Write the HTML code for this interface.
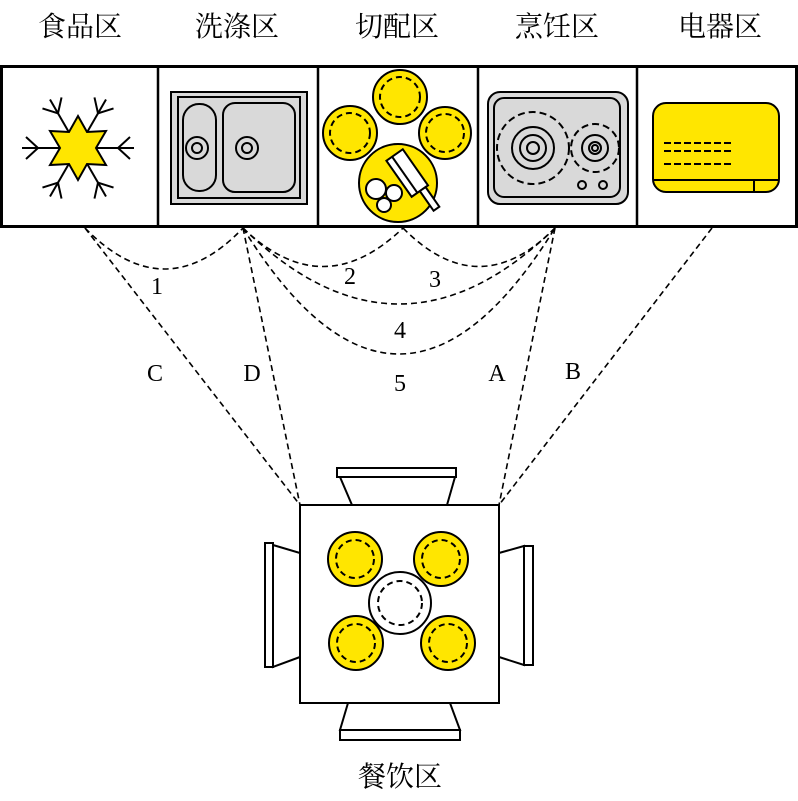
<!DOCTYPE html>
<html><head><meta charset="utf-8"><style>
body{margin:0;background:#fff}
svg{display:block}
text{font-family:"Liberation Serif","Noto Serif CJK SC",serif;fill:#000}
</style></head><body>
<svg width="798" height="801" viewBox="0 0 798 801" xmlns="http://www.w3.org/2000/svg">
<g font-size="28" text-anchor="middle">
<text x="80" y="36">食品区</text><text x="237" y="36">洗涤区</text><text x="397" y="36">切配区</text><text x="557" y="36">烹饪区</text><text x="720" y="36">电器区</text>
<text x="400" y="786">餐饮区</text>
</g>
<rect x="1.5" y="66.5" width="795" height="160" fill="#fff" stroke="#000" stroke-width="3"/>
<g stroke="#000" stroke-width="2.5"><line x1="158" y1="66" x2="158" y2="227"/><line x1="318" y1="66" x2="318" y2="227"/><line x1="478" y1="66" x2="478" y2="227"/><line x1="637" y1="66" x2="637" y2="227"/></g>
<!-- snowflake -->
<g stroke="#000" stroke-width="2" fill="none" transform="translate(78,148)">
<g id="arm"><line x1="0" y1="0" x2="56" y2="0"/><polyline points="52,-11 40,0 52,11"/></g>
<use href="#arm" transform="rotate(60)"/><use href="#arm" transform="rotate(120)"/><use href="#arm" transform="rotate(180)"/><use href="#arm" transform="rotate(240)"/><use href="#arm" transform="rotate(300)"/>
<polygon fill="#ffe600" points="0,-32 9,-16 28,-17 18,0 28,17 9,16 0,32 -9,16 -28,17 -18,0 -28,-17 -9,-16"/>
</g>
<!-- sink -->
<g stroke="#000" stroke-width="2" fill="#d9d9d9">
<rect x="171" y="92" width="136" height="112"/>
<rect x="178" y="97" width="122" height="101"/>
<rect x="183" y="104" width="33" height="87" rx="16"/>
<rect x="223" y="103" width="72" height="89" rx="12"/>
<circle cx="197" cy="148" r="11"/><circle cx="197" cy="148" r="5"/>
<circle cx="247" cy="148" r="11"/><circle cx="247" cy="148" r="5"/>
</g>
<!-- cutting -->
<g stroke="#000" stroke-width="2" fill="#ffe600">
<circle cx="400" cy="97" r="27"/><circle cx="400" cy="97" r="20" stroke-dasharray="6,4" fill="none"/>
<circle cx="350" cy="133" r="27"/><circle cx="350" cy="133" r="20" stroke-dasharray="6,4" fill="none"/>
<circle cx="445" cy="133" r="26"/><circle cx="445" cy="133" r="19" stroke-dasharray="6,4" fill="none"/>
<circle cx="398" cy="183" r="39"/>
<g fill="#fff"><circle cx="376" cy="189" r="10"/><circle cx="394" cy="193" r="8"/><circle cx="384" cy="205" r="7"/></g>
<g transform="translate(400,161) rotate(-35)" fill="#fff"><rect x="-11" y="-8" width="20" height="44"/><rect x="-1" y="36" width="7" height="24"/><line x1="-4" y1="-8" x2="-4" y2="36"/></g>
</g>
<!-- stove -->
<g stroke="#000" stroke-width="2" fill="#d9d9d9">
<rect x="488" y="92" width="140" height="112" rx="12"/>
<rect x="494" y="98" width="126" height="99" rx="10"/>
<g fill="none"><circle cx="533" cy="148" r="36" stroke-dasharray="7,4"/><circle cx="533" cy="148" r="21"/><circle cx="533" cy="148" r="13"/><circle cx="533" cy="148" r="6"/>
<circle cx="595" cy="148" r="24" stroke-dasharray="7,4"/><circle cx="595" cy="148" r="13"/><circle cx="595" cy="148" r="6"/><circle cx="595" cy="148" r="3"/>
<circle cx="582" cy="185" r="4"/><circle cx="603" cy="185" r="4"/></g>
</g>
<!-- appliance -->
<g stroke="#000" stroke-width="2">
<rect x="653" y="103" width="126" height="89" rx="13" fill="#ffe600"/>
<line x1="654" y1="180" x2="778" y2="180"/><line x1="754" y1="180" x2="754" y2="192"/>
<g stroke-dasharray="7,3"><line x1="664" y1="143" x2="732" y2="143"/><line x1="664" y1="151" x2="732" y2="151"/><line x1="664" y1="164" x2="732" y2="164"/></g>
</g>
<!-- connectors -->
<g stroke="#000" stroke-width="1.6" fill="none" stroke-dasharray="6,4">
<path d="M85,228 Q165,310 243,228"/>
<path d="M243,228 Q323,305 403,228"/>
<path d="M403,228 Q479,305 555,228"/>
<path d="M243,228 Q399,380 555,228"/>
<path d="M243,228 Q399,480 555,228"/>
<line x1="85" y1="228" x2="300" y2="505"/>
<line x1="243" y1="228" x2="300" y2="505"/>
<line x1="555" y1="228" x2="499" y2="505"/>
<line x1="712" y1="228" x2="499" y2="505"/>
</g>
<g font-size="24" text-anchor="middle">
<text x="157" y="294">1</text><text x="350" y="284">2</text><text x="435" y="287">3</text><text x="400" y="338">4</text><text x="400" y="391">5</text>
<text x="155" y="381">C</text><text x="252" y="381">D</text><text x="497" y="381">A</text><text x="573" y="379">B</text>
</g>
<!-- table & chairs -->
<g stroke="#000" stroke-width="2" fill="#fff">
<polygon points="340,477 455,477 447,505 352,505"/><rect x="337" y="468" width="119" height="9"/>
<polygon points="348,703 450,703 460,730 340,730"/><rect x="340" y="730" width="120" height="10"/>
<polygon points="273,545 300,553 300,657 273,667"/><rect x="265" y="543" width="8" height="124"/>
<polygon points="499,553 524,546 524,665 499,657"/><rect x="524" y="546" width="9" height="119"/>
<rect x="300" y="505" width="199" height="198"/>
</g>
<g stroke="#000" stroke-width="2">
<g fill="#ffe600"><circle cx="355" cy="559" r="27"/><circle cx="441" cy="559" r="27"/><circle cx="356" cy="643" r="27"/><circle cx="448" cy="643" r="27"/></g>
<circle cx="400" cy="603" r="31" fill="#fff"/>
<g fill="none" stroke-dasharray="6,4"><circle cx="355" cy="559" r="19"/><circle cx="441" cy="559" r="19"/><circle cx="356" cy="643" r="19"/><circle cx="448" cy="643" r="19"/><circle cx="400" cy="603" r="22"/></g>
</g>
</svg>
</body></html>
